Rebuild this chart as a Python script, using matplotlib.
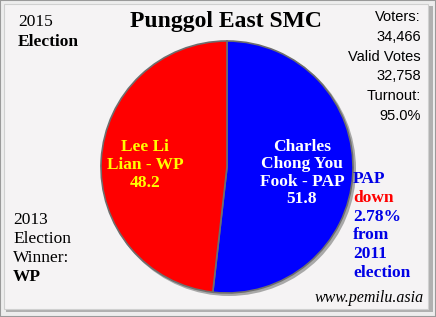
import matplotlib.pyplot as plt
from matplotlib.patches import Rectangle, Circle

# data
candidates = ["Charles\nChong You\nFook - PAP", "Lee Li\nLian - WP"]
shares = [51.8, 48.2]
colors = ["#0000FF", "#FF0000"]
label_colors = ["white", "#FFFF00"]
title = "Punggol East SMC"
stats = ["Voters:", "34,466", "Valid Votes", "32,758", "Turnout:", "95.0%"]
swing = ["PAP", "down", "2.78%", "from", "2011", "election"]
swing_colors = ["#0000E6", "#FF0000", "#0000E6", "#0000E6", "#0000E6", "#0000E6"]

W, H = 436, 317
fig = plt.figure(figsize=(W / 100, H / 100), dpi=100)
fig.patch.set_facecolor("#EDEDED")
ax = fig.add_axes([0, 0, 1, 1])
ax.axis("off")

def Y(y):
    return H - y

# frame
ax.add_patch(Rectangle((0, 0), W, H, facecolor="#EDEDED", edgecolor="#9A9A9A", lw=1.5, zorder=0))
ax.add_patch(Rectangle((6, Y(312)), 427, 306, facecolor="#B0B0B0", edgecolor="none", zorder=0))
ax.add_patch(Rectangle((4, Y(309)), 424, 305, facecolor="#F5F3F4", edgecolor="#D0D0D0", lw=0.8, zorder=0))

# pie shadow + pie
cx, cy, r = 227, Y(167), 126
ax.add_patch(Circle((cx + 2, cy - 2), r + 1, facecolor="#A8A8A8", edgecolor="none", zorder=1))
wedges, _ = ax.pie(shares, colors=colors, startangle=90, counterclock=False,
                   center=(cx, cy), radius=r,
                   wedgeprops=dict(edgecolor="#6E6E6E", linewidth=1.2, zorder=2))

sf = "Liberation Serif"
ax.text(302, Y(173), "\n".join([candidates[0], f"{shares[0]}"]), color=label_colors[0],
        family=sf, weight="bold", fontsize=12.5, ha="center", va="center", linespacing=1.13, zorder=3)
ax.text(145, Y(165), "\n".join([candidates[1], f"{shares[1]}"]), color=label_colors[1],
        family=sf, weight="bold", fontsize=12.5, ha="center", va="center", linespacing=1.13, zorder=3)

ax.text(226, Y(22), title, family=sf, weight="bold", fontsize=17, ha="center", va="center")
ax.text(18, Y(22), "2015", family=sf, fontsize=12.5, ha="left", va="center")
ax.text(18, Y(42), "Election", family=sf, weight="bold", fontsize=12.5, ha="left", va="center")

for i, s in enumerate(stats):
    ax.text(421, Y(17 + i * 19.8), s, family="Liberation Sans", fontsize=10.5,
            ha="right", va="center")

for i, s in enumerate(["2013", "Election", "Winner:"]):
    ax.text(13, Y(220 + i * 19), s, family=sf, fontsize=12.5, ha="left", va="center")
ax.text(13, Y(277), "WP", family=sf, weight="bold", fontsize=12.5, ha="left", va="center")

for i, (s, c) in enumerate(zip(swing, swing_colors)):
    ax.text(353, Y(179 + i * 18.8), s, family=sf, weight="bold", fontsize=12.5,
            color=c, ha="left", va="center")

ax.text(424, Y(298), "www.pemilu.asia", family=sf, style="italic", fontsize=11.5,
        ha="right", va="center")

ax.set_xlim(0, W)
ax.set_ylim(0, H)
ax.set_aspect("auto")

fig.savefig("out.png", dpi=100, facecolor=fig.get_facecolor())
